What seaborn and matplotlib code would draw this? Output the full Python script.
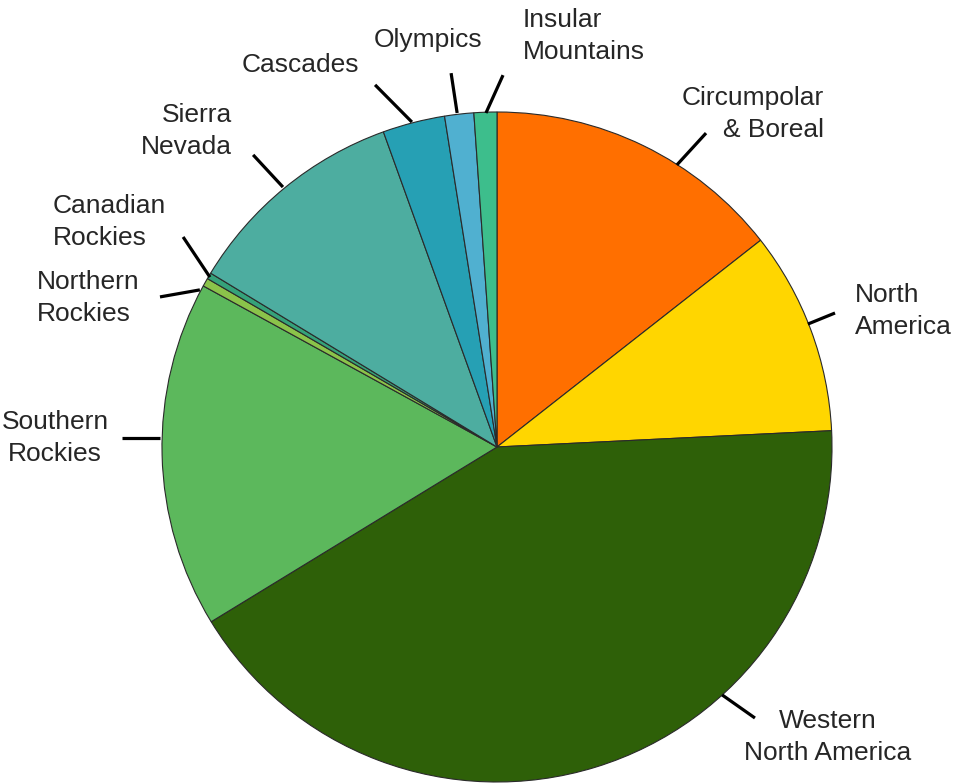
import matplotlib
matplotlib.use("Agg")
import matplotlib.pyplot as plt
import seaborn as sns

# ---- data ----
regions = ["Circumpolar\n& Boreal", "North\nAmerica", "Western\nNorth America",
           "Southern\nRockies", "Northern\nRockies", "Canadian\nRockies",
           "Sierra\nNevada", "Cascades", "Olympics", "Insular\nMountains"]
shares = [14.4, 9.8, 42.0, 16.7, 0.4, 0.3, 10.8, 3.0, 1.4, 1.1]
colors = ["#FF6F00", "#FFD600", "#2E6008", "#5CB85C", "#8BC34A", "#35A27A",
          "#4DADA0", "#26A0B4", "#50B0D0", "#3DBE8C"]

# ---- layout (label leader lines and text positions, data units) ----
line_start = [(0.537, 0.842), (0.928, 0.367), (0.672, -0.740), (-1.006, 0.027),
              (-0.887, 0.469), (-0.857, 0.507), (-0.639, 0.776), (-0.254, 0.970),
              (-0.119, 0.997), (-0.033, 0.997)]
line_end = [(0.624, 0.937), (1.009, 0.400), (0.770, -0.809), (-1.119, 0.027),
            (-1.006, 0.448), (-0.937, 0.627), (-0.728, 0.872), (-0.364, 1.081),
            (-0.137, 1.116), (0.018, 1.110)]
# pixel anchors converted below
text_px = [(824, 114, "right"), (855, 311, "left"), (828, 737, "center"),
           (55, 438, "center"), (37, 298, "left"), (53, 222, "left"),
           (232, 131, "right"), (300, 65, "center"), (428, 40, "center"),
           (523, 36, "left")]

sns.set_theme(style="white")
plt.rcParams["font.family"] = ["Liberation Sans", "DejaVu Sans"]

fig = plt.figure(figsize=(9.55, 7.83), dpi=100)
ax = fig.add_axes([0, 0, 1, 1])
cx, cy, R = 497, 447, 335

ax.pie(shares, colors=colors, startangle=90, counterclock=False, radius=1,
       center=(0, 0),
       wedgeprops=dict(edgecolor="#2a2a2a", linewidth=0.8))

for (x0, y0), (x1, y1) in zip(line_start, line_end):
    ax.plot([x0, x1], [y0, y1], color="black", lw=2.3, solid_capstyle="butt")

for lab, (px, py, ha) in zip(regions, text_px):
    ax.text((px - cx) / R, (cy - py) / R, lab, ha=ha, va="center",
            multialignment=ha, fontsize=19, color="#262626", linespacing=1.38)

ax.set_xlim(-cx / R, (955 - cx) / R)
ax.set_ylim(-(783 - cy) / R, cy / R)
ax.set_aspect("auto")
ax.axis("off")
fig.savefig("out.png", dpi=100, facecolor="white")
